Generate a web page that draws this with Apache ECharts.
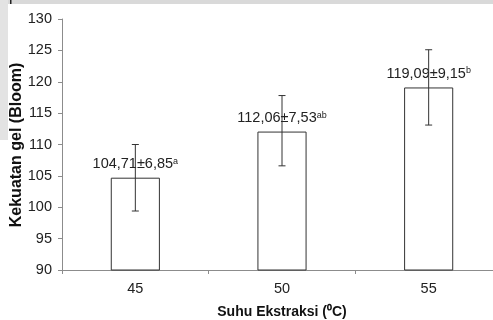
<!DOCTYPE html>
<html><head><meta charset="utf-8">
<script src="https://cdn.jsdelivr.net/npm/echarts@6/dist/echarts.min.js"></script>
<style>html,body{margin:0;padding:0;background:#fff}#c{width:493px;height:320px}</style>
</head><body><div id="c"></div>
<script>
const categories = ['45', '50', '55'];
const means = [104.71, 112.06, 119.09];
const sdText = ['6,85', '7,53', '9,15'];
const letters = ['a', 'ab', 'b'];
const errLow = [99.4, 106.6, 113.1];
const errHigh = [110.0, 117.8, 125.1];
const yTicks = [90, 95, 100, 105, 110, 115, 120, 125, 130];

const FONT = "'Liberation Sans', Arial, sans-serif";
const chart = echarts.init(document.getElementById('c'), null, {renderer: 'canvas'});

function fmtNum(v) { return v.toFixed(2).replace('.', ','); }

chart.setOption({
  animation: false,
  backgroundColor: '#fff',
  grid: {left: 62, top: 19, width: 440, height: 251, containLabel: false, outerBoundsMode: 'none'},
  xAxis: {
    type: 'category', data: categories,
    name: 'Suhu Ekstraksi (⁰C)', nameLocation: 'middle', nameGap: 35,
    nameTextStyle: {fontFamily: FONT, fontWeight: 'bold', fontSize: 14, color: '#111'},
    axisLine: {lineStyle: {color: '#8c8c8c', width: 1}},
    axisTick: {show: true, length: 4, lineStyle: {color: '#8c8c8c'}},
    axisLabel: {fontFamily: FONT, fontSize: 14.5, color: '#222', margin: 11}
  },
  yAxis: {
    type: 'value', min: yTicks[0], max: yTicks[yTicks.length - 1], interval: 5,
    axisLine: {show: true, lineStyle: {color: '#8c8c8c', width: 1}},
    axisTick: {show: true, length: 4, lineStyle: {color: '#8c8c8c'}},
    splitLine: {show: false},
    axisLabel: {fontFamily: FONT, fontSize: 14.5, color: '#222', margin: 10}
  },
  graphic: [
    {type: 'rect', shape: {x: 0, y: 0, width: 493, height: 4}, style: {fill: '#d9d9d9'}, z: 0},
    {type: 'rect', shape: {x: 0, y: 0, width: 8, height: 140}, style: {fill: '#e3e3e3'}, z: 0},
    {type: 'rect', shape: {x: 10, y: 0, width: 1.5, height: 4}, style: {fill: '#222'}, z: 1},
    {type: 'text', x: 17, y: 145, rotation: Math.PI / 2,
     style: {text: 'Kekuatan gel (Bloom)', fontFamily: FONT, fontWeight: 'bold', fontSize: 16,
             fill: '#111', textAlign: 'center', textVerticalAlign: 'middle'}}
  ],
  series: [
    {
      type: 'bar', data: means, barWidth: '33.5%',
      itemStyle: {color: '#fff', borderColor: '#333', borderWidth: 1},
      label: {
        show: true, position: 'top', distance: 6,
        formatter: p => '{n|' + fmtNum(means[p.dataIndex]) + '±' + sdText[p.dataIndex] + '}{s|' + letters[p.dataIndex] + '}',
        rich: {
          n: {fontFamily: FONT, fontSize: 14.5, color: '#222'},
          s: {fontFamily: FONT, fontSize: 9, color: '#222', verticalAlign: 'top', padding: [0, 0, 6, 0]}
        }
      },
      z: 2
    },
    {
      type: 'custom', z: 5,
      data: categories.map((c, i) => [i, errLow[i], errHigh[i]]),
      renderItem: (params, api) => {
        const lo = api.coord([api.value(0), api.value(1)]);
        const hi = api.coord([api.value(0), api.value(2)]);
        const cap = 3.5;
        const st = {stroke: '#333', lineWidth: 1};
        return {type: 'group', children: [
          {type: 'line', shape: {x1: hi[0], y1: hi[1], x2: lo[0], y2: lo[1]}, style: st},
          {type: 'line', shape: {x1: hi[0] - cap, y1: hi[1], x2: hi[0] + cap, y2: hi[1]}, style: st},
          {type: 'line', shape: {x1: lo[0] - cap, y1: lo[1], x2: lo[0] + cap, y2: lo[1]}, style: st}
        ]};
      }
    }
  ]
});
</script></body></html>
